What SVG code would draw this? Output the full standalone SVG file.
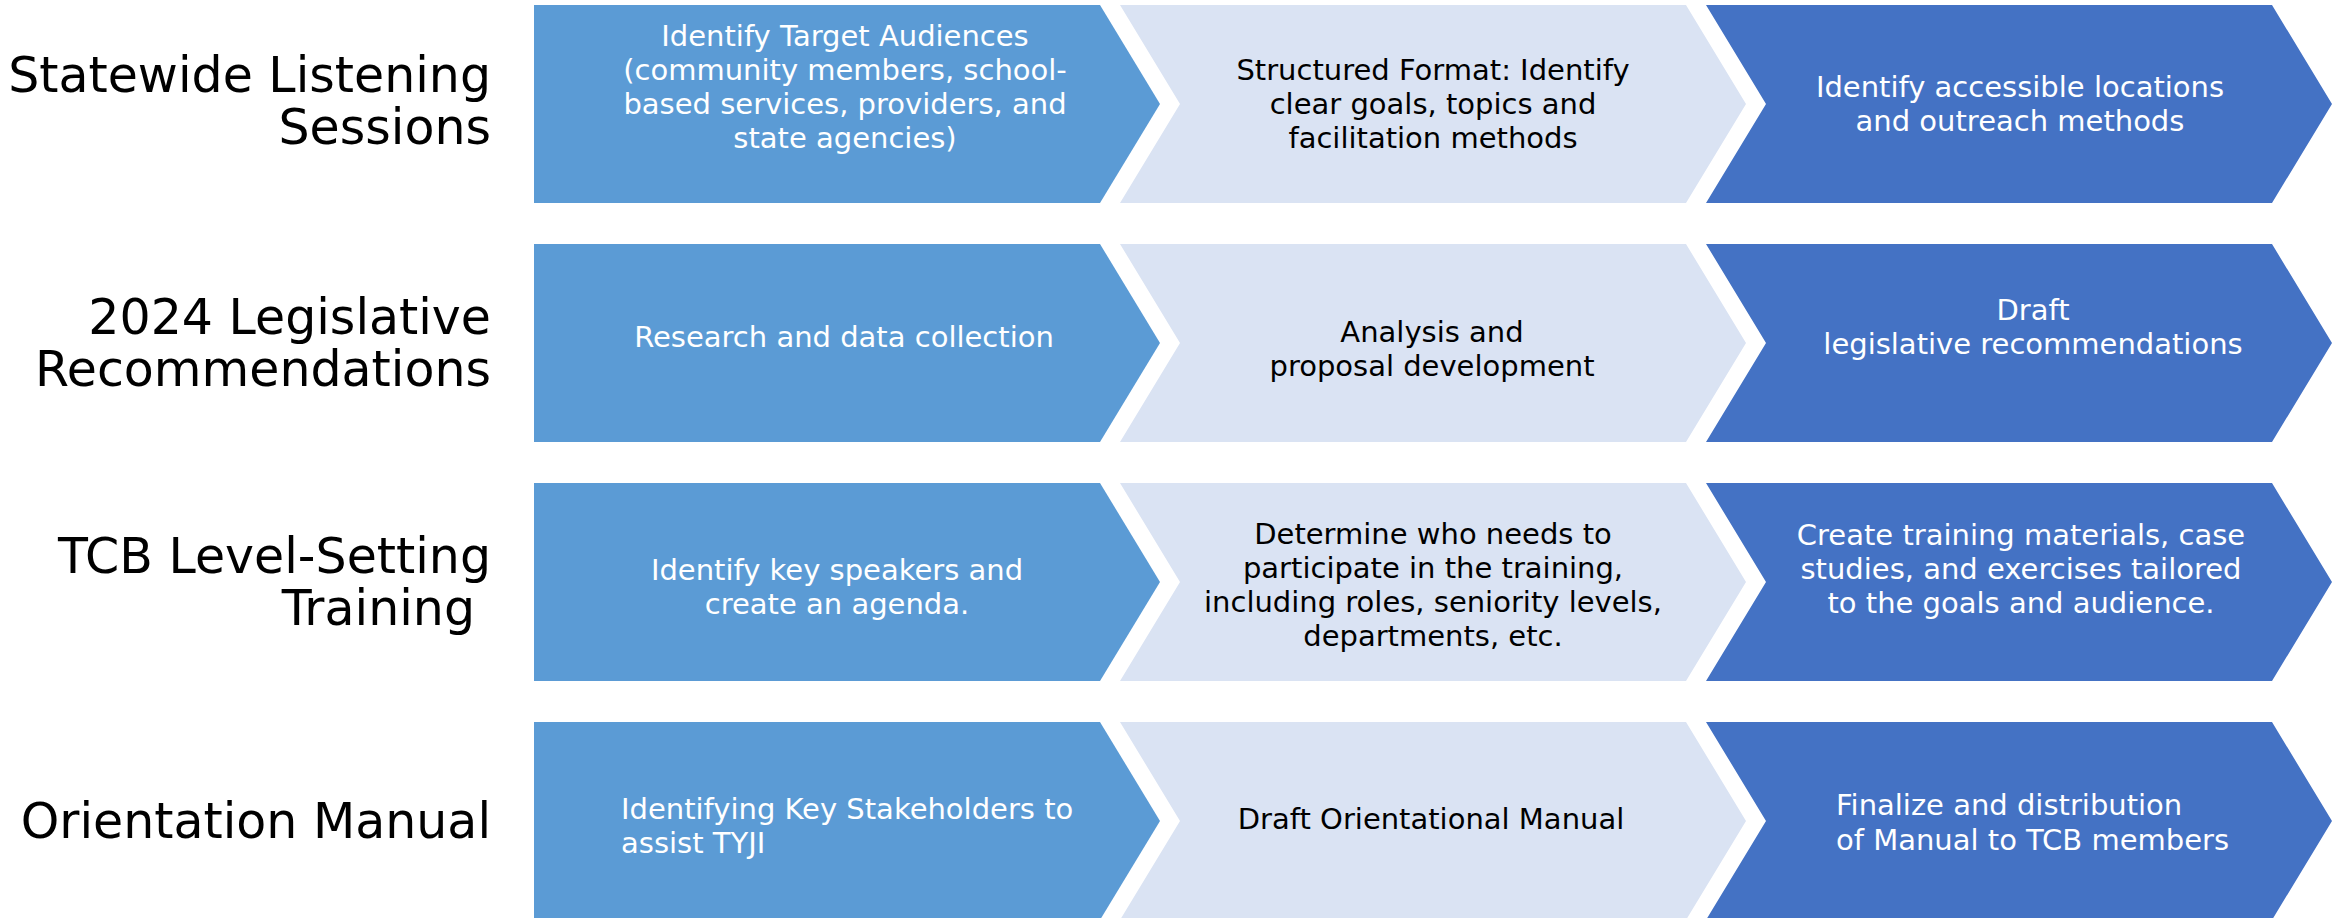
<svg xmlns="http://www.w3.org/2000/svg" width="2341" height="918" viewBox="0 0 2341 918">
<style>
.c1{fill:#5B9BD5}
.c2{fill:#DAE3F3}
.c3{fill:#4472C4}
.lbl{font-family:"DejaVu Sans","Liberation Sans",sans-serif;font-size:49px;fill:#000;text-anchor:end}
.t{font-family:"DejaVu Sans","Liberation Sans",sans-serif;font-size:29px;text-anchor:middle}
.tl{font-family:"DejaVu Sans","Liberation Sans",sans-serif;font-size:29px;text-anchor:start}
.w{fill:#FFFFFF}
.k{fill:#000000}
</style>
<rect width="2341" height="918" fill="#FFFFFF"/>

<g id="row1-label">
<text class="lbl" x="491" y="92">Statewide Listening</text>
<text class="lbl" x="491" y="144">Sessions</text>
</g>
<g id="row1-step1">
<polygon class="c1" points="534,5 1100,5 1160,104 1100,203 534,203"/>
<text class="t w"><tspan x="845" y="46">Identify Target Audiences</tspan><tspan x="845" y="80">(community members, school-</tspan><tspan x="845" y="114">based services, providers, and</tspan><tspan x="845" y="148">state agencies)</tspan></text>
</g>
<g id="row1-step2">
<polygon class="c2" points="1120,5 1686,5 1746,104 1686,203 1120,203 1180,104"/>
<text class="t k"><tspan x="1433" y="80">Structured Format: Identify</tspan><tspan x="1433" y="114">clear goals, topics and</tspan><tspan x="1433" y="148">facilitation methods</tspan></text>
</g>
<g id="row1-step3">
<polygon class="c3" points="1706,5 2272,5 2332,104 2272,203 1706,203 1766,104"/>
<text class="t w"><tspan x="2020" y="97">Identify accessible locations</tspan><tspan x="2020" y="131">and outreach methods</tspan></text>
</g>

<g id="row2-label">
<text class="lbl" x="491" y="334">2024 Legislative</text>
<text class="lbl" x="491" y="386">Recommendations</text>
</g>
<g id="row2-step1">
<polygon class="c1" points="534,244 1100,244 1160,343 1100,442 534,442"/>
<text class="t w" x="844" y="347">Research and data collection</text>
</g>
<g id="row2-step2">
<polygon class="c2" points="1120,244 1686,244 1746,343 1686,442 1120,442 1180,343"/>
<text class="t k"><tspan x="1432" y="342">Analysis and</tspan><tspan x="1432" y="376">proposal development</tspan></text>
</g>
<g id="row2-step3">
<polygon class="c3" points="1706,244 2272,244 2332,343 2272,442 1706,442 1766,343"/>
<text class="t w"><tspan x="2033" y="320">Draft</tspan><tspan x="2033" y="354">legislative recommendations</tspan></text>
</g>

<g id="row3-label">
<text class="lbl" x="491" y="573">TCB Level-Setting</text>
<text class="lbl" x="475" y="625">Training</text>
</g>
<g id="row3-step1">
<polygon class="c1" points="534,483 1100,483 1160,582 1100,681 534,681"/>
<text class="t w"><tspan x="837" y="580">Identify key speakers and</tspan><tspan x="837" y="614">create an agenda.</tspan></text>
</g>
<g id="row3-step2">
<polygon class="c2" points="1120,483 1686,483 1746,582 1686,681 1120,681 1180,582"/>
<text class="t k"><tspan x="1433" y="544">Determine who needs to</tspan><tspan x="1433" y="578">participate in the training,</tspan><tspan x="1433" y="612">including roles, seniority levels,</tspan><tspan x="1433" y="646">departments, etc.</tspan></text>
</g>
<g id="row3-step3">
<polygon class="c3" points="1706,483 2272,483 2332,582 2272,681 1706,681 1766,582"/>
<text class="t w"><tspan x="2021" y="545">Create training materials, case</tspan><tspan x="2021" y="579">studies, and exercises tailored</tspan><tspan x="2021" y="613">to the goals and audience.</tspan></text>
</g>

<g id="row4-label">
<text class="lbl" x="491" y="838">Orientation Manual</text>
</g>
<g id="row4-step1">
<polygon class="c1" points="534,722 1100,722 1160,821 1100,920 534,920"/>
<text class="tl w"><tspan x="621" y="819">Identifying Key Stakeholders to</tspan><tspan x="621" y="853">assist TYJI</tspan></text>
</g>
<g id="row4-step2">
<polygon class="c2" points="1120,722 1686,722 1746,821 1686,920 1120,920 1180,821"/>
<text class="t k" x="1431" y="829">Draft Orientational Manual</text>
</g>
<g id="row4-step3">
<polygon class="c3" points="1706,722 2272,722 2332,821 2272,920 1706,920 1766,821"/>
<text class="tl w"><tspan x="1836" y="815">Finalize and distribution</tspan><tspan x="1836" y="850">of Manual to TCB members</tspan></text>
</g>

<g id="connectors"/>
</svg>
